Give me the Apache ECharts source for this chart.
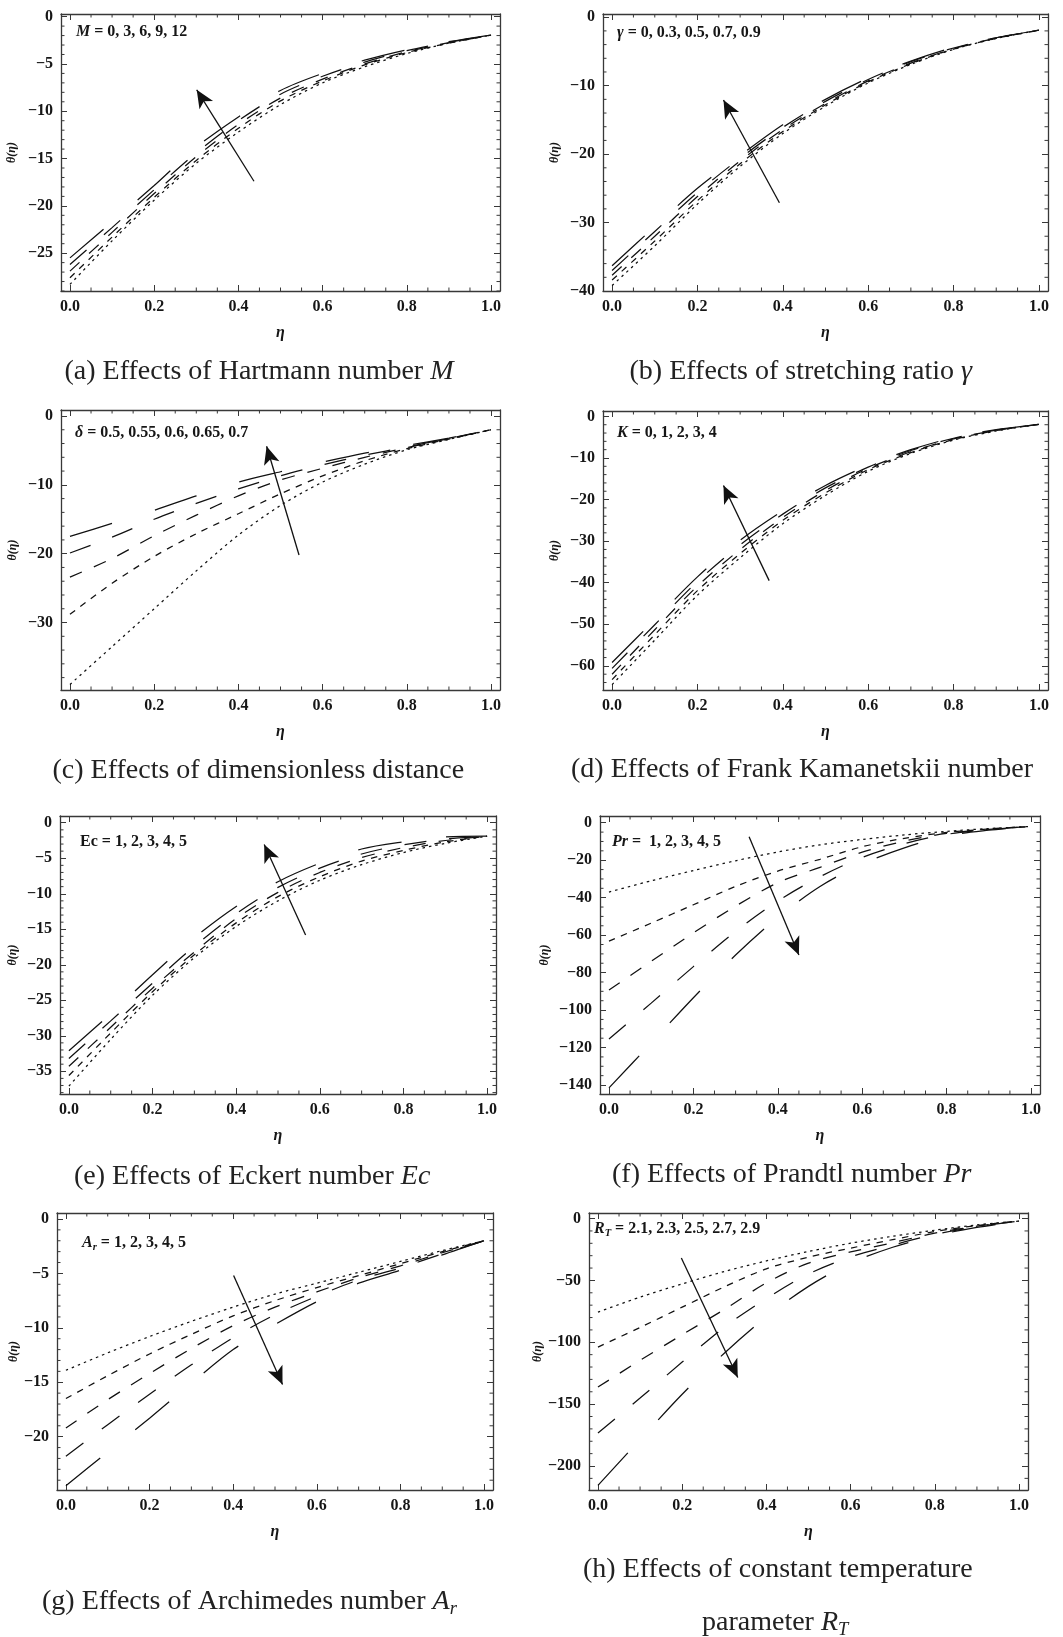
<!DOCTYPE html>
<html>
<head>
<meta charset="utf-8">
<title>θ(η) parameter study</title>
<script src="https://cdn.jsdelivr.net/npm/echarts@6/dist/echarts.min.js"></script>
<style>
  html, body { margin: 0; padding: 0; background: #ffffff; }
  #chart { width: 1063px; height: 1637px; }
</style>
</head>
<body>
<div id="chart"></div>
<script>
// ---- shared abscissa -------------------------------------------------------
const ETA = [0, 0.1, 0.2, 0.3, 0.4, 0.5, 0.6, 0.7, 0.8, 0.9, 1.0];
const X_TICKS = [0, 0.2, 0.4, 0.6, 0.8, 1.0];

// ---- (a) Hartmann number M = 0, 3, 6, 9, 12 --------------------------------
const thetaM0  = [-28.3, -23.7, -19.4, -15.5, -12.2, -9.3, -7.0, -5.3, -3.9, -2.8, -1.95];
const thetaM3  = [-27.6, -23.3, -19.1, -15.2, -11.8, -8.9, -6.8, -5.1, -3.8, -2.8, -1.95];
const thetaM6  = [-26.9, -22.8, -18.7, -14.8, -11.4, -8.6, -6.6, -5.0, -3.7, -2.75, -1.95];
const thetaM9  = [-26.2, -22.3, -18.3, -14.4, -11.0, -8.2, -6.3, -4.8, -3.6, -2.7, -1.95];
const thetaM12 = [-25.5, -21.7, -17.85, -13.8, -10.6, -7.8, -6.0, -4.6, -3.5, -2.65, -1.95];

// ---- (b) stretching ratio γ = 0, 0.3, 0.5, 0.7, 0.9 -------------------------
const thetaG00 = [-39.2, -33.4, -27.3, -21.8, -17.0, -13.0, -9.6, -6.9, -4.7, -3.1, -1.9];
const thetaG03 = [-38.4, -32.7, -26.8, -21.4, -16.7, -12.8, -9.45, -6.8, -4.65, -3.1, -1.9];
const thetaG05 = [-37.7, -32.0, -26.2, -21.0, -16.4, -12.6, -9.3, -6.7, -4.6, -3.05, -1.9];
const thetaG07 = [-37.0, -31.3, -25.6, -20.6, -16.1, -12.3, -9.1, -6.5, -4.5, -3.0, -1.9];
const thetaG09 = [-36.3, -30.6, -25.0, -20.2, -15.7, -12.0, -8.9, -6.4, -4.4, -3.0, -1.9];

// ---- (c) dimensionless distance δ = 0.5 … 0.7 -------------------------------
const thetaD050 = [-39.0, -33.5, -28.0, -22.5, -17.3, -13.0, -9.6, -7.0, -4.9, -3.4, -2.0];
const thetaD055 = [-28.8, -24.3, -20.4, -17.1, -14.2, -11.3, -8.7, -6.5, -4.75, -3.35, -2.0];
const thetaD060 = [-23.4, -20.7, -17.4, -14.4, -11.6, -9.3, -7.6, -6.0, -4.6, -3.3, -2.0];
const thetaD065 = [-19.9, -17.6, -15.0, -12.7, -10.6, -8.7, -7.1, -5.7, -4.5, -3.25, -2.0];
const thetaD070 = [-17.5, -15.6, -13.7, -11.6, -9.6, -8.1, -6.7, -5.4, -4.3, -3.2, -2.0];

// ---- (d) Frank Kamanetskii number K = 0 … 4 ---------------------------------
const thetaK0 = [-64.5, -53.8, -43.0, -34.0, -25.8, -19.0, -13.2, -8.9, -5.7, -3.5, -1.9];
const thetaK1 = [-63.3, -52.5, -41.9, -33.0, -25.0, -18.4, -12.8, -8.7, -5.55, -3.4, -1.9];
const thetaK2 = [-62.0, -51.3, -40.8, -32.0, -24.3, -17.8, -12.5, -8.5, -5.4, -3.35, -1.9];
const thetaK3 = [-60.6, -50.1, -39.7, -30.9, -23.5, -17.2, -12.2, -8.2, -5.25, -3.3, -1.9];
const thetaK4 = [-59.2, -48.9, -38.6, -29.8, -22.7, -16.6, -11.8, -8.0, -5.1, -3.2, -1.9];

// ---- (e) Eckert number Ec = 1 … 5 -------------------------------------------
const thetaEc1 = [-37.1, -30.5, -24.3, -19.0, -14.6, -11.0, -8.1, -5.9, -4.2, -2.9, -1.9];
const thetaEc2 = [-35.6, -29.6, -23.8, -18.6, -14.1, -10.4, -7.6, -5.4, -3.9, -2.7, -1.9];
const thetaEc3 = [-34.3, -28.8, -23.3, -18.2, -13.5, -9.8, -7.0, -4.9, -3.5, -2.5, -1.9];
const thetaEc4 = [-33.2, -27.9, -22.6, -17.4, -12.8, -9.1, -6.4, -4.4, -3.1, -2.3, -1.9];
const thetaEc5 = [-32.1, -26.9, -21.4, -16.2, -11.8, -8.3, -5.7, -3.7, -2.7, -2.0, -1.9];

// ---- (f) Prandtl number Pr = 1 … 5 ------------------------------------------
const thetaPr1 = [-37.0, -31.0, -25.5, -20.3, -15.6, -11.8, -8.9, -6.5, -4.6, -3.1, -2.0];
const thetaPr2 = [-63.2, -53.6, -43.8, -34.0, -25.8, -19.5, -12.8, -8.3, -5.2, -3.3, -2.0];
const thetaPr3 = [-89.3, -74.0, -58.8, -44.5, -32.0, -23.8, -15.7, -9.8, -5.7, -3.5, -2.0];
const thetaPr4 = [-115.4, -96.3, -76.8, -58.0, -41.8, -28.8, -18.5, -11.2, -6.2, -3.7, -2.0];
const thetaPr5 = [-141.5, -117.6, -93.4, -70.6, -50.5, -34.0, -22.0, -13.4, -7.0, -4.0, -2.0];

// ---- (g) Archimedes number Ar = 1 … 5 ---------------------------------------
const thetaAr1 = [-13.9, -12.3, -10.8, -9.4, -8.1, -6.9, -5.9, -4.9, -3.9, -2.9, -2.0];
const thetaAr2 = [-16.5, -14.4, -12.4, -10.6, -8.9, -7.5, -6.3, -5.2, -4.1, -3.0, -2.0];
const thetaAr3 = [-19.2, -16.6, -14.2, -11.9, -9.8, -8.1, -6.7, -5.4, -4.3, -3.1, -2.0];
const thetaAr4 = [-21.8, -18.9, -16.1, -13.4, -10.9, -8.8, -7.1, -5.6, -4.5, -3.2, -2.0];
const thetaAr5 = [-24.5, -21.4, -18.3, -15.1, -12.0, -9.7, -7.6, -5.9, -4.7, -3.3, -2.0];

// ---- (h) constant temperature parameter RT = 2.1 … 2.9 ----------------------
const thetaRT21 = [-75.6, -63.5, -52.8, -42.8, -34.2, -26.6, -19.9, -14.3, -9.4, -5.1, -2.0];
const thetaRT23 = [-103.9, -88.0, -71.6, -55.2, -40.6, -31.2, -23.9, -17.0, -10.5, -5.6, -2.0];
const thetaRT25 = [-136.2, -114.6, -93.9, -73.5, -52.0, -36.0, -27.0, -19.5, -11.8, -6.2, -2.0];
const thetaRT27 = [-173.4, -145.1, -116.0, -87.8, -64.6, -44.8, -31.0, -21.5, -12.8, -6.7, -2.0];
const thetaRT29 = [-215.6, -178.7, -142.0, -108.8, -79.4, -54.8, -36.0, -23.2, -13.8, -7.2, -2.0];

// ---- arrows (tail → head, data coordinates) ---------------------------------
const arrowA = [[0.437, -17.4], [0.301, -7.74]];
const arrowB = [[0.392, -27.1], [0.261, -12.1]];
const arrowC = [[0.544, -20.2], [0.467, -4.4]];
const arrowD = [[0.368, -39.5], [0.261, -16.6]];
const arrowE = [[0.566, -15.8], [0.467, -3.05]];
const arrowF = [[0.332, -7.5], [0.45, -70.6]];
const arrowG = [[0.401, -5.2], [0.518, -15.2]];
const arrowH = [[0.198, -31.8], [0.332, -128.4]];

// ---- styling ------------------------------------------------------------------
const SERIF = '"Liberation Serif", "Times New Roman", Times, serif';
const INK = '#161616';
const FRAME = '#383838';
// dotted → longest dash, in the order the parameter values are listed
const DASHES = [[2.5, 4], [6.5, 6.5], [13, 13], [22, 23], [44, 45]];
const X_MIN = -0.0213, X_MAX = 1.0213;
const MAJOR_LEN = 6, MINOR_LEN = 3.5;

const panels = [
  { curves: [thetaM0, thetaM3, thetaM6, thetaM9, thetaM12], arrow: arrowA,
    box: [61, 14, 439, 277], y: [-29.0, 0.28], major: 5, minor: 1, titleGap: 49,
    label: '{bi|M}{b| = 0, 3, 6, 9, 12}', labelAt: [76, 32],
    caption: ['{n|(a) Effects of Hartmann number }{i|M}'], capAt: [[64.5, 372]] },
  { curves: [thetaG00, thetaG03, thetaG05, thetaG07, thetaG09], arrow: arrowB,
    box: [603, 14, 445, 277], y: [-40, 0.47], major: 10, minor: 2, titleGap: 48,
    label: '{bi|γ}{b| = 0, 0.3, 0.5, 0.7, 0.9}', labelAt: [617, 33],
    caption: ['{n|(b) Effects of stretching ratio }{i|γ}'], capAt: [[629.5, 372]] },
  { curves: [thetaD050, thetaD055, thetaD060, thetaD065, thetaD070], arrow: arrowC,
    box: [61, 410, 439, 280], y: [-39.8, 0.87], major: 10, minor: 2, titleGap: 48,
    label: '{bi|δ}{b| = 0.5, 0.55, 0.6, 0.65, 0.7}', labelAt: [75, 433],
    caption: ['{n|(c) Effects of dimensionless distance}'], capAt: [[52.5, 771]] },
  { curves: [thetaK0, thetaK1, thetaK2, thetaK3, thetaK4], arrow: arrowD,
    box: [603, 411, 445, 279], y: [-65.8, 1.3], major: 10, minor: 2, titleGap: 48,
    label: '{bi|K}{b| = 0, 1, 2, 3, 4}', labelAt: [617, 433],
    caption: ['{n|(d) Effects of Frank Kamanetskii number}'], capAt: [[571, 770]] },
  { curves: [thetaEc1, thetaEc2, thetaEc3, thetaEc4, thetaEc5], arrow: arrowE,
    box: [60, 816, 436, 278], y: [-38.2, 0.95], major: 5, minor: 1, titleGap: 47,
    label: '{b|Ec = 1, 2, 3, 4, 5}', labelAt: [80, 842],
    caption: ['{n|(e) Effects of Eckert number }{i|Ec}'], capAt: [[74, 1177]] },
  { curves: [thetaPr1, thetaPr2, thetaPr3, thetaPr4, thetaPr5], arrow: arrowF,
    box: [600, 816, 440, 278], y: [-144.8, 3.6], major: 20, minor: 5, titleGap: 55,
    label: '{bi|Pr}{b| =  1, 2, 3, 4, 5}', labelAt: [612, 842],
    caption: ['{n|(f) Effects of Prandtl number }{i|Pr}'], capAt: [[612, 1175]] },
  { curves: [thetaAr1, thetaAr2, thetaAr3, thetaAr4, thetaAr5], arrow: arrowG,
    box: [57, 1213, 436, 277], y: [-24.9, 0.55], major: 5, minor: 1, titleGap: 43,
    label: '{bi|A}{bs|r}{b| = 1, 2, 3, 4, 5}', labelAt: [82, 1243],
    caption: ['{n|(g) Effects of Archimedes number }{i|A}{s|r}'], capAt: [[42, 1602]] },
  { curves: [thetaRT21, thetaRT23, thetaRT25, thetaRT27, thetaRT29], arrow: arrowH,
    box: [589, 1213, 439, 277], y: [-219.4, 4.5], major: 50, minor: 10, titleGap: 51,
    label: '{bi|R}{bs|T}{b| = 2.1, 2.3, 2.5, 2.7, 2.9}', labelAt: [594, 1229],
    caption: ['{n|(h) Effects of constant temperature}', '{n|parameter }{i|R}{s|T}'],
    capAt: [[583, 1570], [702, 1623]] }
];

// ---- helpers --------------------------------------------------------------------
function minus(v) { return v < 0 ? '\u2212' + Math.abs(v) : String(v); }

function stepValues(lo, hi, step) {
  const out = [];
  for (let k = Math.ceil(lo / step - 1e-9); k * step <= hi + 1e-9; k++) out.push(+(k * step).toFixed(4));
  return out;
}
function isMultiple(v, step) {
  const r = Math.abs(v / step - Math.round(v / step));
  return r < 1e-6;
}

const X_MINOR = stepValues(0, 1, 0.05).filter(v => !isMultiple(v, 0.2));

const frameLine = { show: true, onZero: false, lineStyle: { color: FRAME, width: 1.3 } };
const tickStyle = { color: FRAME, width: 1 };
const tickLabel = { color: INK, fontFamily: SERIF, fontWeight: 'bold', fontSize: 16 };

const labelRich = {
  b:  { fontFamily: SERIF, fontWeight: 'bold', fontSize: 16, fill: INK },
  bi: { fontFamily: SERIF, fontWeight: 'bold', fontStyle: 'italic', fontSize: 16, fill: INK },
  bs: { fontFamily: SERIF, fontWeight: 'bold', fontStyle: 'italic', fontSize: 10.5, fill: INK,
        verticalAlign: 'bottom', padding: [8, 0, 0, 0] }
};
const captionRich = {
  n: { fontFamily: SERIF, fontSize: 28, fill: '#222' },
  i: { fontFamily: SERIF, fontStyle: 'italic', fontSize: 28, fill: '#222' },
  s: { fontFamily: SERIF, fontStyle: 'italic', fontSize: 18.5, fill: '#222',
       verticalAlign: 'bottom', padding: [14, 0, 0, 0] }
};

// short inward minor ticks on all four sides, positioned by the axes' scales
function renderMinorTick(params, api) {
  const pt = api.coord([api.value(0), api.value(1)]);
  const side = api.value(2);
  let x2 = pt[0], y2 = pt[1];
  if (side === 0) x2 += MINOR_LEN;        // left edge
  else if (side === 1) x2 -= MINOR_LEN;   // right edge
  else if (side === 2) y2 -= MINOR_LEN;   // bottom edge
  else y2 += MINOR_LEN;                   // top edge
  return { type: 'line', shape: { x1: pt[0], y1: pt[1], x2, y2 },
           style: { stroke: FRAME, lineWidth: 1 } };
}

const grid = [], xAxis = [], yAxis = [], series = [], graphic = [];

panels.forEach((p, gi) => {
  const [left, top, width, height] = p.box;
  grid.push({ left, top, width, height, containLabel: false, show: false });

  const yMajor = stepValues(p.y[0], p.y[1], p.major);
  const yMinor = stepValues(p.y[0], p.y[1], p.minor).filter(v => !isMultiple(v, p.major));

  const xi = xAxis.length, yi = yAxis.length;
  const xBase = { gridIndex: gi, type: 'value', min: X_MIN, max: X_MAX, splitLine: { show: false } };
  const yBase = { gridIndex: gi, type: 'value', min: p.y[0], max: p.y[1], splitLine: { show: false } };

  xAxis.push(
    Object.assign({}, xBase, { position: 'bottom', axisLine: frameLine,
      axisTick: { show: true, inside: true, length: MAJOR_LEN, customValues: X_TICKS, lineStyle: tickStyle },
      axisLabel: Object.assign({ show: true, margin: 8, customValues: X_TICKS,
        formatter: v => (+v).toFixed(1) }, tickLabel) }),
    Object.assign({}, xBase, { position: 'top', axisLine: frameLine,
      axisTick: { show: true, inside: true, length: MAJOR_LEN, customValues: X_TICKS, lineStyle: tickStyle },
      axisLabel: { show: false } })
  );
  yAxis.push(
    Object.assign({}, yBase, { position: 'left', axisLine: frameLine,
      axisTick: { show: true, inside: true, length: MAJOR_LEN, customValues: yMajor, lineStyle: tickStyle },
      axisLabel: Object.assign({ show: true, margin: 8, customValues: yMajor,
        formatter: v => minus(Math.round(+v)) }, tickLabel) }),
    Object.assign({}, yBase, { position: 'right', axisLine: frameLine,
      axisTick: { show: true, inside: true, length: MAJOR_LEN, customValues: yMajor, lineStyle: tickStyle },
      axisLabel: { show: false } })
  );

  // minor tick marks: [x, y, side]
  const minorTicks = [];
  yMinor.forEach(v => { minorTicks.push([X_MIN, v, 0]); minorTicks.push([X_MAX, v, 1]); });
  X_MINOR.forEach(u => { minorTicks.push([u, p.y[0], 2]); minorTicks.push([u, p.y[1], 3]); });
  series.push({
    type: 'custom', xAxisIndex: xi, yAxisIndex: yi, silent: true, clip: false,
    data: minorTicks, encode: { x: 0, y: 1 }, renderItem: renderMinorTick, z: 1
  });

  p.curves.forEach((vals, ci) => {
    const s = {
      type: 'line', xAxisIndex: xi, yAxisIndex: yi,
      data: ETA.map((e, k) => [e, vals[k]]),
      showSymbol: false, smooth: 0.3, silent: true, clip: true, z: 3,
      lineStyle: { color: '#111', width: 1.25, type: DASHES[ci] }
    };
    if (ci === 0) {
      s.markLine = {
        silent: true, animation: false,
        symbol: ['none', 'arrow'], symbolSize: [0, 15],
        label: { show: false },
        lineStyle: { color: '#111', width: 1.3, type: 'solid' },
        data: [[
          { coord: p.arrow[0], symbol: 'none' },
          { coord: p.arrow[1], symbol: 'arrow', symbolSize: [12, 18] }
        ]]
      };
    }
    series.push(s);
  });

  // in-frame parameter label
  graphic.push({ type: 'text', x: p.labelAt[0], y: p.labelAt[1], silent: true,
    style: { text: p.label, rich: labelRich, align: 'left', verticalAlign: 'middle',
      fontFamily: SERIF, fontSize: 16, fontWeight: 'bold', fill: INK } });

  // axis titles
  graphic.push({ type: 'text', x: left - p.titleGap, y: top + height / 2, rotation: Math.PI / 2, silent: true,
    style: { text: 'θ(η)', align: 'center', verticalAlign: 'middle', fontFamily: SERIF,
      fontSize: 12, fontWeight: 'bold', fontStyle: 'italic', fill: INK } });
  graphic.push({ type: 'text', x: left + width / 2, y: top + height + 42, silent: true,
    style: { text: 'η', align: 'center', verticalAlign: 'middle', fontFamily: SERIF,
      fontSize: 16, fontWeight: 'bold', fontStyle: 'italic', fill: INK } });

  // caption line(s)
  p.caption.forEach((c, li) => {
    graphic.push({ type: 'text', x: p.capAt[li][0], y: p.capAt[li][1], silent: true,
      style: { text: c, rich: captionRich, align: 'left', verticalAlign: 'middle',
        fontFamily: SERIF, fontSize: 28, fill: '#222' } });
  });
});

const chart = echarts.init(document.getElementById('chart'), null, { renderer: 'canvas', width: 1063, height: 1637 });
chart.setOption({
  backgroundColor: '#ffffff',
  animation: false,
  grid, xAxis, yAxis, series, graphic
});
</script>
</body>
</html>
